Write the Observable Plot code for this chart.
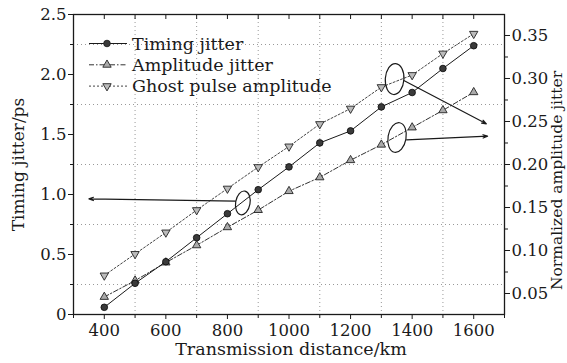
<!DOCTYPE html>
<html>
<head>
<meta charset="utf-8">
<script src="https://cdn.jsdelivr.net/npm/d3@7"></script>
<script src="https://cdn.jsdelivr.net/npm/@observablehq/plot@0.6"></script>
<style>
  html, body { margin: 0; padding: 0; background: #fff; }
  #wrap { position: relative; width: 567px; height: 363px; }
  #legend { position: absolute; left: 0; top: 0; pointer-events: none; }
</style>
</head>
<body>
<div id="wrap"></div>
<script>
// ---- data ----
const distance = [400, 500, 600, 700, 800, 900, 1000, 1100, 1200, 1300, 1400, 1500, 1600];
const timingJitter = [0.06, 0.26, 0.44, 0.64, 0.84, 1.04, 1.23, 1.43, 1.53, 1.73, 1.85, 2.05, 2.24];       // left axis, ps
const amplitudeJitter = [0.046, 0.065, 0.086, 0.106, 0.127, 0.147, 0.169, 0.185, 0.205, 0.223, 0.243, 0.263, 0.284]; // right axis
const ghostAmplitude = [0.071, 0.096, 0.121, 0.147, 0.172, 0.197, 0.221, 0.247, 0.265, 0.290, 0.304, 0.329, 0.352];  // right axis
const seriesNames = ["Timing jitter", "Amplitude jitter", "Ghost pulse amplitude"];

const xDomain = [300, 1700];
const leftDomain = [0, 2.5];
const rightDomain = [0.0256, 0.3744];
const xLabelTicks = [400, 600, 800, 1000, 1200, 1400, 1600];
const xMinorTicks = [300, 500, 700, 900, 1100, 1300, 1500, 1700];
const xGrid = [500, 700, 900, 1100, 1300, 1500];
const leftTicks = [0, 0.5, 1.0, 1.5, 2.0, 2.5];
const leftMinorTicks = [0.25, 0.75, 1.25, 1.75, 2.25];
const yGrid = [0.25, 0.75, 1.25, 1.75, 2.25];
const rightTicks = [0.05, 0.10, 0.15, 0.20, 0.25, 0.30, 0.35];
const rightMinorTicks = [0.075, 0.125, 0.175, 0.225, 0.275, 0.325];

// annotations (data units of x and left axis)
const ellipses = [
  {x: 850, y: 0.93, r: 12, rotate: 10},
  {x: 1343, y: 1.962, r: 15.5, rotate: 4},
  {x: 1351, y: 1.475, r: 15, rotate: 10}
];
const arrows = [
  {x1: 826, y1: 0.944, x2: 350, y2: 0.964},
  {x1: 1373, y1: 1.95, x2: 1641, y2: 1.589},
  {x1: 1382, y1: 1.456, x2: 1645, y2: 1.486}
];

// ---- helpers ----
const toLeft = v => (v - rightDomain[0]) / (rightDomain[1] - rightDomain[0]) * (leftDomain[1] - leftDomain[0]) + leftDomain[0];
const fromLeft = d => (d - leftDomain[0]) / (leftDomain[1] - leftDomain[0]) * (rightDomain[1] - rightDomain[0]) + rightDomain[0];

const timingRows = distance.map((x, i) => ({x, y: timingJitter[i]}));
const ampRows = distance.map((x, i) => ({x, y: toLeft(amplitudeJitter[i])}));
const ghostRows = distance.map((x, i) => ({x, y: toLeft(ghostAmplitude[i])}));

const ellipseSymbol = {
  draw(ctx, size) {
    const ry = Math.sqrt(size / Math.PI), rx = ry * 0.6, k = 0.5523;
    ctx.moveTo(rx, 0);
    ctx.bezierCurveTo(rx, ry * k, rx * k, ry, 0, ry);
    ctx.bezierCurveTo(-rx * k, ry, -rx, ry * k, -rx, 0);
    ctx.bezierCurveTo(-rx, -ry * k, -rx * k, -ry, 0, -ry);
    ctx.bezierCurveTo(rx * k, -ry, rx, -ry * k, rx, 0);
    ctx.closePath();
  }
};

const FONT = "'DejaVu Serif', 'Liberation Serif', serif";
const FS = 16.5;
const INK = "#1a1a1a";
const styles = {
  timing: {stroke: INK, dash: null, symbol: "circle", r: 3.3, fill: "#3a3a3a", rotate: 0},
  amp: {stroke: "#333", dash: "5,2,1.5,2", symbol: "triangle", r: 3.1, fill: "#aaa", rotate: 0},
  ghost: {stroke: "#444", dash: "2,2", symbol: "triangle", r: 3.1, fill: "#bbb", rotate: 180}
};

const chart = Plot.plot({
  width: 567,
  height: 363,
  marginLeft: 73,
  marginRight: 63,
  marginTop: 14,
  marginBottom: 49,
  style: {fontFamily: FONT, fontSize: FS + "px", color: INK, background: "#fff"},
  x: {domain: xDomain},
  y: {domain: leftDomain},
  r: {type: "identity"},
  marks: [
    Plot.gridX(xGrid, {stroke: "#999", strokeOpacity: 1, strokeDasharray: "1,3"}),
    Plot.gridY(yGrid, {stroke: "#999", strokeOpacity: 1, strokeDasharray: "1,3"}),
    // axes
    Plot.axisX(xLabelTicks, {anchor: "bottom", tickSize: 5, tickPadding: 5, fontSize: FS, tickFormat: d => String(d), label: null}),
    Plot.axisX(xMinorTicks, {anchor: "bottom", tickSize: 4, fill: "none", label: null}),
    Plot.ruleX(xLabelTicks.concat(xMinorTicks), {insetBottom: 295, stroke: INK}),
    Plot.axisY(leftTicks, {anchor: "left", tickSize: 5, tickPadding: 2, fontSize: FS, tickFormat: d => d === 0 ? "0" : d.toFixed(1), label: null}),
    Plot.axisY(leftMinorTicks, {anchor: "left", tickSize: 3, fill: "none", label: null}),
    Plot.axisY(rightTicks.map(toLeft), {anchor: "right", tickSize: 5, tickPadding: 2, fontSize: FS, tickFormat: d => fromLeft(d).toFixed(2), label: null}),
    Plot.axisY(rightMinorTicks.map(toLeft), {anchor: "right", tickSize: 3, fill: "none", label: null}),
    Plot.frame({stroke: INK, strokeWidth: 1.3}),
    // titles
    Plot.text(["Transmission distance/km"], {frameAnchor: "bottom", textAnchor: "middle", dx: 2, dy: 40, fontSize: 17.5, fill: INK}),
    Plot.text(["Timing jitter/ps"], {frameAnchor: "left", textAnchor: "middle", dx: -55, dy: 0, rotate: -90, fontSize: 17, fill: INK}),
    Plot.text(["Normalized amplitude jitter"], {frameAnchor: "right", textAnchor: "middle", dx: 53, dy: 16, rotate: -90, fontSize: 15.5, fill: INK}),
    // series
    Plot.line(ghostRows, {x: "x", y: "y", stroke: styles.ghost.stroke, strokeWidth: 1, strokeDasharray: styles.ghost.dash}),
    Plot.line(ampRows, {x: "x", y: "y", stroke: styles.amp.stroke, strokeWidth: 1, strokeDasharray: styles.amp.dash}),
    Plot.line(timingRows, {x: "x", y: "y", stroke: styles.timing.stroke, strokeWidth: 1}),
    Plot.dot(ghostRows, {x: "x", y: "y", symbol: "triangle", rotate: 180, r: styles.ghost.r, fill: styles.ghost.fill, stroke: "#222", strokeWidth: 0.9}),
    Plot.dot(ampRows, {x: "x", y: "y", symbol: "triangle", r: styles.amp.r, fill: styles.amp.fill, stroke: "#222", strokeWidth: 0.9}),
    Plot.dot(timingRows, {x: "x", y: "y", symbol: "circle", r: styles.timing.r, fill: styles.timing.fill, stroke: "#111", strokeWidth: 0.9}),
    // annotations
    Plot.dot(ellipses, {x: "x", y: "y", r: "r", rotate: "rotate", symbol: ellipseSymbol, fill: "none", stroke: INK, strokeWidth: 1.2}),
    Plot.arrow(arrows, {x1: "x1", y1: "y1", x2: "x2", y2: "y2", stroke: INK, strokeWidth: 1.2, headLength: 6, headAngle: 40})
  ]
});

const wrap = document.getElementById("wrap");
wrap.appendChild(chart);

// ---- legend (inside plot, top-left) ----
const legend = d3.select(wrap).append("svg")
  .attr("id", "legend").attr("width", 567).attr("height", 363);
const legendStyles = [styles.timing, styles.amp, styles.ghost];
const symbolTypes = {circle: d3.symbolCircle, triangle: d3.symbolTriangle};
seriesNames.forEach((name, i) => {
  const s = legendStyles[i];
  const cy = 43.5 + i * 21.3;
  const g = legend.append("g");
  g.append("line").attr("x1", 89).attr("x2", 127).attr("y1", cy).attr("y2", cy)
    .attr("stroke", s.stroke).attr("stroke-width", 1).attr("stroke-dasharray", s.dash);
  g.append("path")
    .attr("d", d3.symbol(symbolTypes[s.symbol], Math.PI * s.r * s.r)())
    .attr("transform", `translate(107,${cy}) rotate(${s.rotate})`)
    .attr("fill", s.fill).attr("stroke", "#222").attr("stroke-width", 0.9);
  g.append("text").attr("x", 132).attr("y", cy + 6)
    .attr("font-family", FONT).attr("font-size", 17.5).attr("fill", INK)
    .text(name);
});
</script>
</body>
</html>
